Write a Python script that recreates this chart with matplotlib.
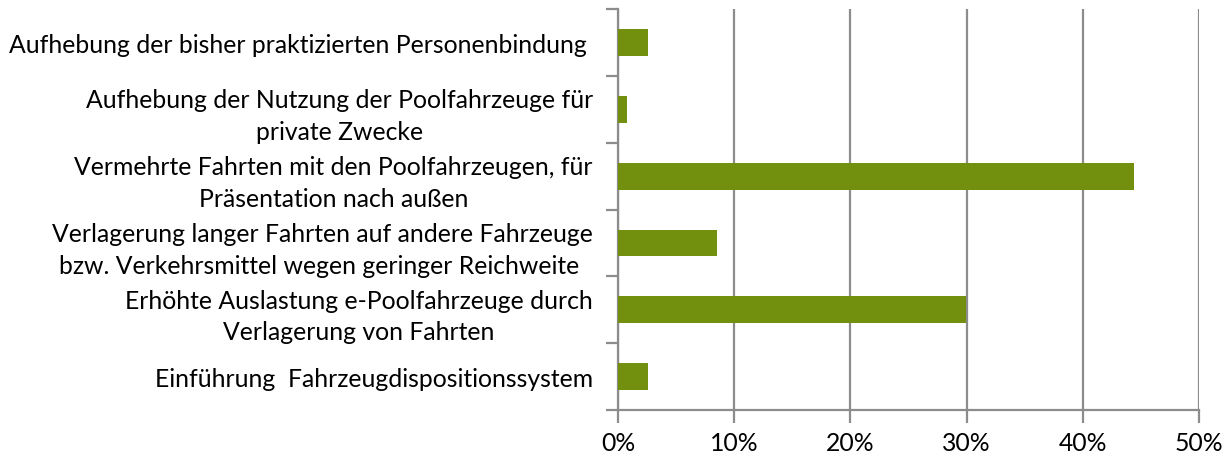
import matplotlib
matplotlib.use("Agg")
import matplotlib.pyplot as plt
from matplotlib.ticker import FixedLocator, PercentFormatter

categories = [
    "Aufhebung der bisher praktizierten Personenbindung ",
    "Aufhebung der Nutzung der Poolfahrzeuge für\nprivate Zwecke",
    "Vermehrte Fahrten mit den Poolfahrzeugen, für\nPräsentation nach außen",
    "Verlagerung langer Fahrten auf andere Fahrzeuge\nbzw. Verkehrsmittel wegen geringer Reichweite ",
    "Erhöhte Auslastung e-Poolfahrzeuge durch\nVerlagerung von Fahrten",
    "Einführung  Fahrzeugdispositionssystem",
]
values = [2.6, 0.8, 44.4, 8.5, 29.9, 2.6]
x_ticks = [0, 10, 20, 30, 40, 50]

plt.rcParams['font.family'] = ['Lato', 'DejaVu Sans']

fig = plt.figure(figsize=(12.3, 4.6), dpi=100)
ax = fig.add_axes([0.5024, 0.1065, 0.4726, 0.8715])

bar_color = "#728F0E"
grid_color = "#8C8C8C"

pos = list(range(len(categories)))
ax.barh(pos, values, height=0.4, color=bar_color, zorder=3)

ax.set_xlim(0, 50)
ax.set_ylim(len(categories) - 0.5, -0.5)

ax.xaxis.set_major_locator(FixedLocator(x_ticks))
ax.xaxis.set_major_formatter(PercentFormatter(decimals=0))
ax.grid(axis='x', color=grid_color, linewidth=1.6, zorder=0)

ax.set_yticks(pos)
ax.set_yticklabels(categories, fontsize=17.8, linespacing=1.45, ha='right',
                   multialignment='center')
ax.tick_params(axis='y', which='major', length=0, pad=18)
ax.set_yticks([p - 0.5 for p in pos] + [len(categories) - 0.5], minor=True)
ax.tick_params(axis='y', which='minor', length=9, width=1.6, color=grid_color, direction='out')
ax.tick_params(axis='x', which='major', length=9, width=1.6, color=grid_color,
               direction='out', labelsize=17.8, pad=6)

for side in ['top', 'right']:
    ax.spines[side].set_visible(False)
for side in ['left', 'bottom']:
    ax.spines[side].set_color(grid_color)
    ax.spines[side].set_linewidth(1.6)

fig.savefig("out.png", dpi=100)
